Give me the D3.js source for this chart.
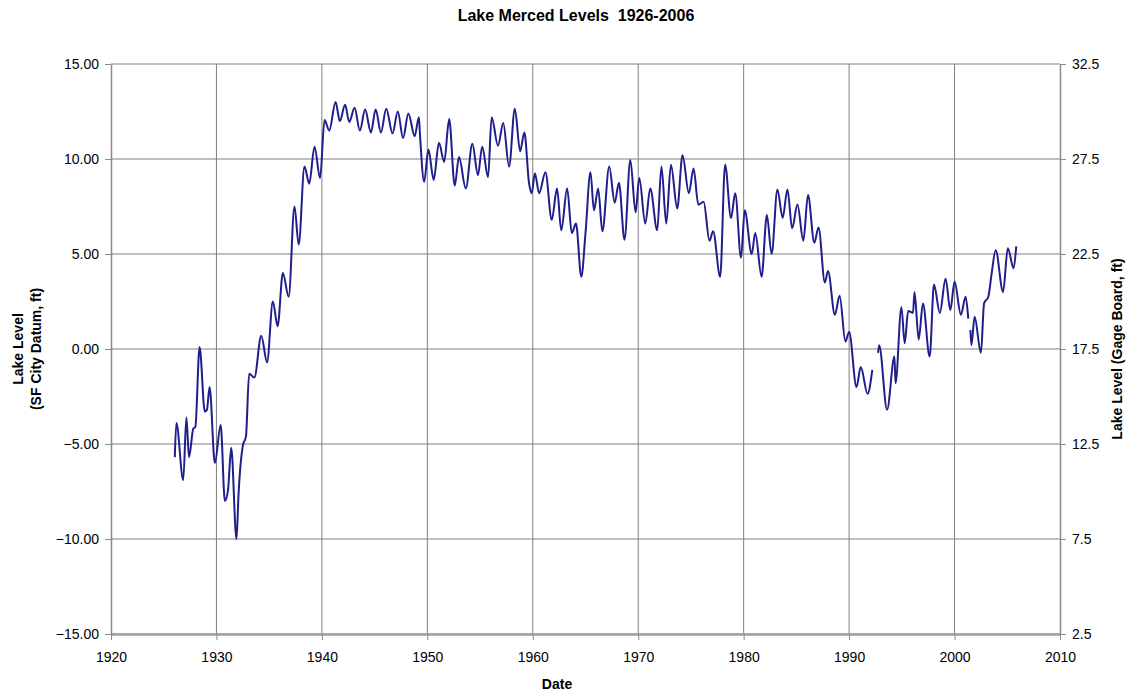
<!DOCTYPE html>
<html>
<head>
<meta charset="utf-8">
<script src="https://cdn.jsdelivr.net/npm/d3@7"></script>
<style>
  body { margin: 0; background: #fff; }
  svg text { font-family: "Liberation Sans", Arial, sans-serif; fill: #000; }
</style>
</head>
<body>
<div id="chart"></div>
<script>
// lake level readings (decimal year, ft SF City Datum)
var years = [
  1926.05, 1926.2, 1926.85, 1927.15, 1927.4, 1927.8, 1928.0, 1928.4, 1928.9, 1929.1,
  1929.35, 1929.85, 1930.4, 1930.8, 1931.1, 1931.4, 1931.9, 1932.1, 1932.5, 1932.8,
  1933.1, 1933.6, 1934.25, 1934.8, 1935.35, 1935.8, 1936.3, 1936.85, 1937.4, 1937.8,
  1938.35, 1938.8, 1939.3, 1939.83, 1940.25, 1940.7, 1941.3, 1941.7, 1942.2, 1942.6,
  1943.1, 1943.6, 1944.1, 1944.65, 1945.1, 1945.6, 1946.1, 1946.7, 1947.2, 1947.7,
  1948.2, 1948.8, 1949.2, 1949.3, 1949.7, 1950.1, 1950.6, 1951.1, 1951.6, 1952.07,
  1952.6, 1953.0, 1953.65, 1954.27, 1954.8, 1955.2, 1955.76, 1956.1, 1956.7, 1957.2,
  1957.75, 1958.3, 1958.8, 1959.2, 1959.65, 1959.9, 1960.2, 1960.6, 1961.2, 1961.8,
  1962.3, 1962.7, 1963.26, 1963.7, 1964.1, 1964.6, 1965.0, 1965.47, 1965.8, 1966.2,
  1966.6, 1967.25, 1967.77, 1968.17, 1968.7, 1969.25, 1969.75, 1970.1, 1970.67, 1971.14,
  1971.8, 1972.2, 1972.66, 1973.1, 1973.7, 1974.2, 1974.8, 1975.25, 1975.7, 1976.2,
  1976.76, 1977.1, 1977.77, 1978.24, 1978.8, 1979.2, 1979.75, 1980.1, 1980.76, 1981.1,
  1981.7, 1982.2, 1982.65, 1983.2, 1983.7, 1984.15, 1984.6, 1985.1, 1985.66, 1986.1,
  1986.7, 1987.1, 1987.7, 1988.0, 1988.65, 1989.1, 1989.65, 1990.0, 1990.7, 1991.1,
  1991.75, 1992.2, 1992.5, 1992.75, 1992.85, 1993.6, 1994.3, 1994.4, 1994.96, 1995.27,
  1995.6, 1996.06, 1996.2, 1996.6, 1997.0, 1997.64, 1998.05, 1998.6, 1999.15, 1999.6,
  2000.0, 2000.6, 2001.05, 2001.3, 2001.4, 2001.5, 2001.6, 2001.9, 2002.5, 2002.8,
  2003.2, 2003.5, 2003.9, 2004.6, 2005.05, 2005.6, 2005.85
];
var levels = [
  -5.7, -3.9, -6.9, -3.6, -5.7, -4.2, -4.1, 0.1, -3.3, -3.2,
  -2.0, -6.0, -4.0, -8.0, -7.4, -5.2, -10.0, -7.6, -5.1, -4.6,
  -1.3, -1.5, 0.7, -0.7, 2.5, 1.2, 4.0, 2.75, 7.5, 5.5,
  9.6, 8.7, 10.65, 9.0, 12.05, 11.5, 13.0, 12.0, 12.85, 11.95,
  12.7, 11.5, 12.6, 11.4, 12.6, 11.4, 12.65, 11.35, 12.5, 11.1,
  12.4, 11.2, 12.2, 11.3, 8.8, 10.5, 8.9, 10.85, 9.85, 12.1,
  8.6, 10.1, 8.45, 10.8, 9.15, 10.65, 9.05, 12.2, 10.7, 11.9,
  9.6, 12.65, 10.4, 11.4, 8.7, 8.2, 9.25, 8.2, 9.3, 6.8,
  8.45, 6.25, 8.45, 6.1, 6.6, 3.8, 6.1, 9.3, 7.3, 8.45,
  6.2, 9.6, 7.7, 8.75, 5.75, 9.95, 7.2, 9.0, 6.6, 8.45,
  6.25, 9.6, 6.6, 9.7, 7.4, 10.2, 8.2, 9.5, 7.6, 7.75,
  5.7, 6.2, 3.8, 9.7, 6.9, 8.2, 4.8, 7.3, 5.0, 6.1,
  3.8, 7.05, 5.0, 8.4, 6.9, 8.4, 6.35, 7.6, 5.7, 8.1,
  5.6, 6.4, 3.5, 4.1, 1.8, 2.8, 0.4, 0.9, -2.0, -0.95,
  -2.35, -1.1, null, -0.2, 0.2, -3.2, -0.4, -1.8, 2.2, 0.3,
  2.0, 1.9, 3.0, 0.5, 2.4, -0.4, 3.4, 1.9, 3.7, 2.05,
  3.55, 1.8, 2.75, 1.6, null, 1.0, 0.2, 1.7, -0.2, 2.4,
  2.75, 3.9, 5.2, 3.0, 5.3, 4.25, 5.4
];

var xTicks = [1920, 1930, 1940, 1950, 1960, 1970, 1980, 1990, 2000, 2010];
var leftTicks = [15, 10, 5, 0, -5, -10, -15];
var rightTicks = [32.5, 27.5, 22.5, 17.5, 12.5, 7.5, 2.5];

var data = years.map(function (y, i) { return { year: y, level: levels[i] }; });

var width = 1126, height = 693;
var margin = { top: 64, right: 66, bottom: 59, left: 111 };
var innerW = width - margin.left - margin.right;
var innerH = height - margin.top - margin.bottom;

var svg = d3.select("#chart").append("svg")
  .attr("width", width)
  .attr("height", height);

var g = svg.append("g")
  .attr("transform", `translate(${margin.left},${margin.top})`);

var x = d3.scaleLinear().domain([1920, 2010]).range([0, innerW]);
var y = d3.scaleLinear().domain([-15, 15]).range([innerH, 0]);
var y2 = d3.scaleLinear().domain([2.5, 32.5]).range([innerH, 0]);

// grid
g.selectAll(".hgrid")
  .data(leftTicks)
  .enter().append("line")
    .attr("x1", 0).attr("x2", innerW)
    .attr("y1", d => y(d)).attr("y2", d => y(d))
    .attr("stroke", "#7f7f7f")
    .attr("stroke-width", 1);

g.selectAll(".vgrid")
  .data(xTicks.slice(1, -1))
  .enter().append("line")
    .attr("x1", d => x(d)).attr("x2", d => x(d))
    .attr("y1", 0).attr("y2", innerH)
    .attr("stroke", "#7f7f7f")
    .attr("stroke-width", 1);

// axes
function styleAxis(sel) {
  sel.select(".domain").attr("stroke", "#8a8a8a").attr("stroke-width", 1.5);
  sel.selectAll(".tick line").attr("stroke", "#8a8a8a");
  sel.selectAll(".tick text")
    .style("font-size", "14px")
    .style("font-family", "'Liberation Sans', Arial, sans-serif");
}

g.append("g")
  .attr("transform", `translate(0,${innerH})`)
  .call(d3.axisBottom(x).tickValues(xTicks).tickFormat(d3.format("d")).tickSize(6).tickSizeOuter(0).tickPadding(12))
  .call(styleAxis)
  .call(s => s.select(".domain").attr("stroke-width", 2.5).attr("stroke", "#a0a0a0"));

g.append("g")
  .call(d3.axisLeft(y).tickValues(leftTicks).tickFormat(d3.format(".2f")).tickSize(6).tickSizeOuter(0).tickPadding(6))
  .call(styleAxis);

g.append("g")
  .attr("transform", `translate(${innerW},0)`)
  .call(d3.axisRight(y2).tickValues(rightTicks).tickFormat(d3.format(".1f")).tickSize(6).tickSizeOuter(0).tickPadding(6))
  .call(styleAxis);

// the series
var line = d3.line()
  .defined(d => d.level !== null)
  .x(d => x(d.year))
  .y(d => y(d.level))
  .curve(d3.curveMonotoneX);

g.append("path")
  .datum(data)
  .attr("fill", "none")
  .attr("stroke", "#1e1e8c")
  .attr("stroke-width", 2)
  .attr("stroke-linejoin", "round")
  .attr("d", line);

// titles
svg.append("text")
  .attr("x", 576).attr("y", 21)
  .attr("text-anchor", "middle")
  .style("white-space", "pre")
  .style("font-size", "16px").style("font-weight", "bold")
  .text("Lake Merced Levels  1926-2006");

svg.append("text")
  .attr("x", margin.left + x(1962.3)).attr("y", 689)
  .attr("text-anchor", "middle")
  .style("font-size", "14px").style("font-weight", "bold")
  .text("Date");

var leftTitle = svg.append("text")
  .attr("transform", `translate(23,${margin.top + innerH / 2}) rotate(-90)`)
  .attr("text-anchor", "middle")
  .style("font-size", "14px").style("font-weight", "bold");
leftTitle.append("tspan").attr("x", 0).attr("dy", 0).text("Lake Level");
leftTitle.append("tspan").attr("x", 0).attr("dy", 18).text("(SF City Datum, ft)");

svg.append("text")
  .attr("transform", `translate(1122,${margin.top + innerH / 2}) rotate(-90)`)
  .attr("text-anchor", "middle")
  .style("font-size", "14px").style("font-weight", "bold")
  .text("Lake Level (Gage Board, ft)");
</script>
</body>
</html>
